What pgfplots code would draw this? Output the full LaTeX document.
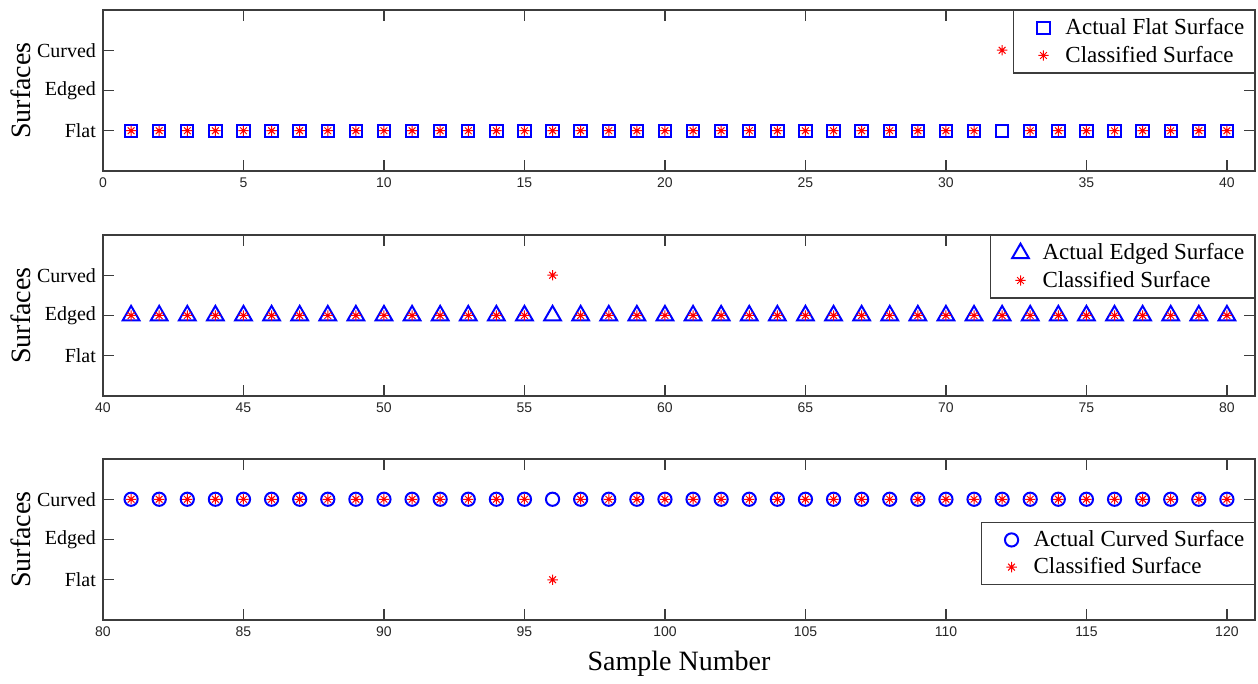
\documentclass[border=0pt]{standalone}
\usepackage{fontspec}
\setmainfont{Liberation Serif}
\newfontfamily\sansfont{Liberation Sans}
\usepackage{pgfplots}
\pgfplotsset{compat=1.18}
\definecolor{axgray}{RGB}{60,60,60}
\pgfdeclareplotmark{matstar}{%
  \pgfpathmoveto{\pgfqpoint{-\pgfplotmarksize}{0pt}}\pgfpathlineto{\pgfqpoint{\pgfplotmarksize}{0pt}}%
  \pgfpathmoveto{\pgfqpoint{0pt}{-\pgfplotmarksize}}\pgfpathlineto{\pgfqpoint{0pt}{\pgfplotmarksize}}%
  \pgfpathmoveto{\pgfqpoint{-0.65\pgfplotmarksize}{-0.65\pgfplotmarksize}}\pgfpathlineto{\pgfqpoint{0.65\pgfplotmarksize}{0.65\pgfplotmarksize}}%
  \pgfpathmoveto{\pgfqpoint{-0.65\pgfplotmarksize}{0.65\pgfplotmarksize}}\pgfpathlineto{\pgfqpoint{0.65\pgfplotmarksize}{-0.65\pgfplotmarksize}}%
  \pgfusepathqstroke}
\pgfplotsset{
  panel/.style={
    scale only axis, width=576pt, height=80.5pt,
    ymin=0, ymax=4, ytick={1,2,3}, yticklabels={Flat,Edged,Curved},
    tick align=inside, major tick length=5.5pt,
    axis line style={axgray, line width=0.7pt},
    every tick/.style={axgray, line width=0.7pt},
    /pgf/number format/assume math mode=true,
    x tick label style={font=\sansfont\fontsize{7}{8}\selectfont, text=black!85},
    y tick label style={font=\fontsize{10}{12}\selectfont},
    ylabel={Surfaces},
    ylabel style={font=\fontsize{14}{16}\selectfont, at={(axis description cs:-0.0712,0.5)}, anchor=center},
    legend style={font=\fontsize{11.5}{13}\selectfont, draw=axgray, line width=0.7pt,
      inner xsep=3pt, inner ysep=2pt, row sep=0pt},
    legend cell align=left,
    legend image code/.code={%
      \path[draw=none] (0pt,0pt) -- (21pt,0pt);
      \draw[##1, only marks] plot coordinates {(12pt,0pt)};},
  },
  actual/.style={only marks, blue, mark options={line width=1pt, solid}},
  classified/.style={only marks, red, mark=matstar, mark size=2.6pt, mark options={line width=0.5pt}},
}
\begin{document}
\begin{tikzpicture}
\useasboundingbox (0,0) rectangle (629pt,-342pt);
% Panel 1
\begin{axis}[panel, at={(51.5pt,-5pt)}, anchor=north west,
  xmin=0, xmax=41, xtick={0,5,...,40},
  legend style={at={(1,1)}, anchor=north east}]
\addplot[actual, mark=square, mark size=3.1pt] coordinates {
(1,1)(2,1)(3,1)(4,1)(5,1)(6,1)(7,1)(8,1)(9,1)(10,1)
(11,1)(12,1)(13,1)(14,1)(15,1)(16,1)(17,1)(18,1)(19,1)(20,1)
(21,1)(22,1)(23,1)(24,1)(25,1)(26,1)(27,1)(28,1)(29,1)(30,1)
(31,1)(32,1)(33,1)(34,1)(35,1)(36,1)(37,1)(38,1)(39,1)(40,1)};
\addlegendentry{Actual Flat Surface}
\addplot[classified] coordinates {
(1,1)(2,1)(3,1)(4,1)(5,1)(6,1)(7,1)(8,1)(9,1)(10,1)
(11,1)(12,1)(13,1)(14,1)(15,1)(16,1)(17,1)(18,1)(19,1)(20,1)
(21,1)(22,1)(23,1)(24,1)(25,1)(26,1)(27,1)(28,1)(29,1)(30,1)
(31,1)(32,3)(33,1)(34,1)(35,1)(36,1)(37,1)(38,1)(39,1)(40,1)};
\addlegendentry{Classified Surface}
\end{axis}
% Panel 2
\begin{axis}[panel, at={(51.5pt,-117.5pt)}, anchor=north west,
  xmin=40, xmax=81, xtick={40,45,...,80},
  legend style={at={(1,1)}, anchor=north east}]
\addplot[actual, mark=triangle, mark size=4.8pt] coordinates {
(41,2)(42,2)(43,2)(44,2)(45,2)(46,2)(47,2)(48,2)(49,2)(50,2)
(51,2)(52,2)(53,2)(54,2)(55,2)(56,2)(57,2)(58,2)(59,2)(60,2)
(61,2)(62,2)(63,2)(64,2)(65,2)(66,2)(67,2)(68,2)(69,2)(70,2)
(71,2)(72,2)(73,2)(74,2)(75,2)(76,2)(77,2)(78,2)(79,2)(80,2)};
\addlegendentry{Actual Edged Surface}
\addplot[classified] coordinates {
(41,2)(42,2)(43,2)(44,2)(45,2)(46,2)(47,2)(48,2)(49,2)(50,2)
(51,2)(52,2)(53,2)(54,2)(55,2)(56,3)(57,2)(58,2)(59,2)(60,2)
(61,2)(62,2)(63,2)(64,2)(65,2)(66,2)(67,2)(68,2)(69,2)(70,2)
(71,2)(72,2)(73,2)(74,2)(75,2)(76,2)(77,2)(78,2)(79,2)(80,2)};
\addlegendentry{Classified Surface}
\end{axis}
% Panel 3
\begin{axis}[panel, at={(51.5pt,-229.5pt)}, anchor=north west,
  xmin=80, xmax=121, xtick={80,85,...,120},
  xlabel={Sample Number},
  xlabel style={font=\fontsize{14}{16}\selectfont, at={(axis description cs:0.5,-0.27)}, anchor=center},
  legend style={at={(1,0.611)}, anchor=north east}]
\addplot[actual, mark=o, mark size=3.3pt] coordinates {
(81,3)(82,3)(83,3)(84,3)(85,3)(86,3)(87,3)(88,3)(89,3)(90,3)
(91,3)(92,3)(93,3)(94,3)(95,3)(96,3)(97,3)(98,3)(99,3)(100,3)
(101,3)(102,3)(103,3)(104,3)(105,3)(106,3)(107,3)(108,3)(109,3)(110,3)
(111,3)(112,3)(113,3)(114,3)(115,3)(116,3)(117,3)(118,3)(119,3)(120,3)};
\addlegendentry{Actual Curved Surface}
\addplot[classified] coordinates {
(81,3)(82,3)(83,3)(84,3)(85,3)(86,3)(87,3)(88,3)(89,3)(90,3)
(91,3)(92,3)(93,3)(94,3)(95,3)(96,1)(97,3)(98,3)(99,3)(100,3)
(101,3)(102,3)(103,3)(104,3)(105,3)(106,3)(107,3)(108,3)(109,3)(110,3)
(111,3)(112,3)(113,3)(114,3)(115,3)(116,3)(117,3)(118,3)(119,3)(120,3)};
\addlegendentry{Classified Surface}
\end{axis}
\end{tikzpicture}
\end{document}
